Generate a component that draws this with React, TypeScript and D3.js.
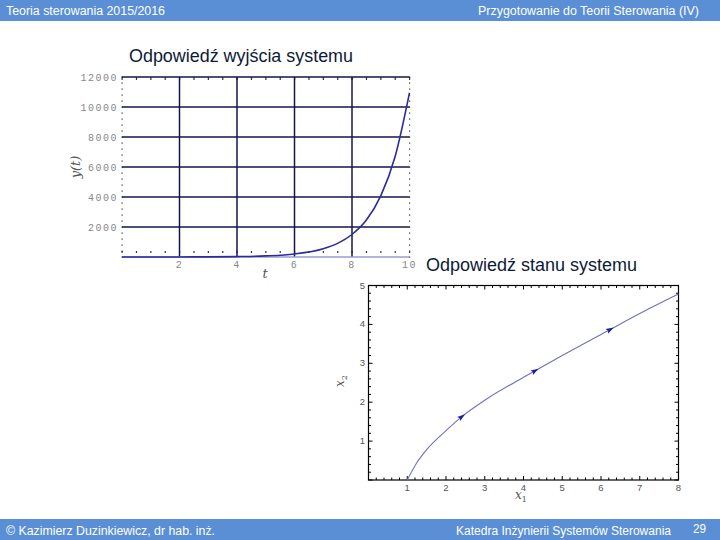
import React from "react";
import * as d3 from "d3";

// ---- Data ----
const headerLeft = "Teoria sterowania  2015/2016";
const headerRight = "Przygotowanie do Teorii  Sterowania (IV)";
const footerLeft = "© Kazimierz Duzinkiewicz, dr hab. inż.";
const footerRight = "Katedra Inżynierii Systemów Sterowania";
const pageNumber = "29";
const title1 = "Odpowiedź wyjścia systemu";
const title2 = "Odpowiedź stanu systemu";

// Output response y(t)
const tValues = [0, 1, 2, 3, 4, 5, 6, 7, 7.5, 8, 8.5, 9, 9.5, 10];
const yValues = [0, 1, 4, 10, 27, 75, 205, 555, 910, 1500, 2460, 4070, 6700, 10950];
const tTicks = [2, 4, 6, 8, 10];
const yTicks = [2000, 4000, 6000, 8000, 10000, 12000];

// State trajectory x2(x1)
const x1Values = [1, 1.25, 1.5, 2, 2.41, 3, 4, 4.3, 5, 6, 6.24, 7, 8];
const x2Values = [0, 0.45, 0.78, 1.27, 1.63, 2.05, 2.64, 2.81, 3.2, 3.74, 3.87, 4.28, 4.78];
const arrowX1 = [2.41, 4.3, 6.24];
const arrowX2 = [1.63, 2.81, 3.87];
const x1Ticks = [1, 2, 3, 4, 5, 6, 7, 8];
const x2Ticks = [1, 2, 3, 4, 5];

const BLUE = "#5a8fd6";

export default function App() {
  // ---- Chart 1 scales ----
  const xs1 = d3.scaleLinear().domain([0, 10]).range([122, 409.5]);
  const ys1 = d3.scaleLinear().domain([0, 12000]).range([257, 77]);
  const pts1 = tValues.map((t, i) => [t, yValues[i]] as [number, number]);
  const line1 = d3
    .line<[number, number]>()
    .x((d) => xs1(d[0]))
    .y((d) => ys1(d[1]))
    .curve(d3.curveMonotoneX);
  const minorY1 = d3.range(0, 12001, 400);
  const minorX1 = d3.range(0, 10.01, 0.5);

  // ---- Chart 2 scales ----
  const xs2 = d3.scaleLinear().domain([0, 8]).range([368.5, 678.5]);
  const ys2 = d3.scaleLinear().domain([0, 5]).range([480, 285.5]);
  const pts2 = x1Values.map((x, i) => [x, x2Values[i]] as [number, number]);
  const line2 = d3
    .line<[number, number]>()
    .x((d) => xs2(d[0]))
    .y((d) => ys2(d[1]))
    .curve(d3.curveMonotoneX);
  const minorX2 = d3.range(0, 8.001, 0.2);
  const minorY2 = d3.range(0, 5.001, 0.2);

  // arrow directions from neighbouring data
  const arrows = arrowX1.map((ax, i) => {
    const ay = arrowX2[i];
    const idx = x1Values.indexOf(ax);
    const nx = x1Values[Math.min(idx + 1, x1Values.length - 1)];
    const ny = x2Values[Math.min(idx + 1, x2Values.length - 1)];
    const px = x1Values[Math.max(idx - 1, 0)];
    const py = x2Values[Math.max(idx - 1, 0)];
    const dx = xs2(nx) - xs2(px);
    const dy = ys2(ny) - ys2(py);
    const ang = (Math.atan2(dy, dx) * 180) / Math.PI;
    return { x: xs2(ax), y: ys2(ay), ang };
  });

  const gridColor = "#15154a";
  const labelFont = "'Liberation Mono', 'DejaVu Sans Mono', monospace";

  return (
    <svg
      width={720}
      height={540}
      style={{ position: "absolute", left: 0, top: 0, background: "#fff" }}
      fontFamily="'Liberation Sans', Arial, sans-serif"
    >
      <rect x={0} y={0} width={720} height={540} fill="#fff" />
      {/* Header */}
      <rect x={0} y={0} width={720} height={21} fill={BLUE} />
      <text x={6} y={15} fill="#fff" fontSize={12} textLength={159} lengthAdjust="spacingAndGlyphs">
        {headerLeft}
      </text>
      <text x={478} y={15} fill="#fff" fontSize={12} textLength={221} lengthAdjust="spacingAndGlyphs">
        {headerRight}
      </text>
      {/* Footer */}
      <rect x={0} y={519} width={720} height={21} fill={BLUE} />
      <text x={6} y={535} fill="#fff" fontSize={12} textLength={209} lengthAdjust="spacingAndGlyphs">
        {footerLeft}
      </text>
      <text x={456} y={535} fill="#fff" fontSize={12} textLength={215} lengthAdjust="spacingAndGlyphs">
        {footerRight}
      </text>
      <text x={693} y={533} fill="#fff" fontSize={12} textLength={13} lengthAdjust="spacingAndGlyphs">
        {pageNumber}
      </text>

      {/* ---- Chart 1 ---- */}
      <text x={129} y={62} fill="#0d1a38" fontSize={17.5} textLength={224} lengthAdjust="spacingAndGlyphs">
        {title1}
      </text>
      {minorY1.map((v) => (
        <g key={"my" + v}>
          <rect x={121.5} y={ys1(v) - 0.5} width={1.2} height={1.2} fill="#333" />
          <rect x={409} y={ys1(v) - 0.5} width={1.2} height={1.2} fill="#333" />
        </g>
      ))}
      {minorX1.map((v) => (
        <g key={"mx" + v}>
          <rect x={xs1(v) - 0.5} y={77} width={1.2} height={3} fill="#333" />
          <rect x={xs1(v) - 0.5} y={251} width={1.2} height={2} fill="#333" />
        </g>
      ))}
      {yTicks.map((v) => (
        <line key={"gy" + v} x1={xs1(0)} x2={xs1(10)} y1={ys1(v)} y2={ys1(v)} stroke={gridColor} strokeWidth={1.5} />
      ))}
      {tTicks
        .filter((v) => v < 10)
        .map((v) => (
          <line key={"gx" + v} x1={xs1(v)} x2={xs1(v)} y1={ys1(12000)} y2={ys1(0)} stroke={gridColor} strokeWidth={1.5} />
        ))}
      <line x1={xs1(0)} x2={xs1(10)} y1={ys1(0)} y2={ys1(0)} stroke="#9a9ad0" strokeWidth={1.5} />
      <path d={line1(pts1) || ""} fill="none" stroke="#2b2b9c" strokeWidth={1.6} />
      {yTicks.map((v) => (
        <text
          key={"ly" + v}
          x={118}
          y={ys1(v) + 3.5}
          textAnchor="end"
          fontSize={10}
          fill="#888"
          fontFamily={labelFont}
          letterSpacing={1.5}
        >
          {v}
        </text>
      ))}
      {tTicks.map((v) => (
        <text
          key={"lx" + v}
          x={xs1(v)}
          y={268}
          textAnchor="middle"
          fontSize={10}
          fill="#888"
          fontFamily={labelFont}
          letterSpacing={1.5}
        >
          {v}
        </text>
      ))}
      <text x={265} y={278} textAnchor="middle" fontSize={13} fontStyle="italic" fontFamily="'DejaVu Serif', serif" fill="#555">
        t
      </text>
      <text
        transform="translate(80,167) rotate(-90)"
        textAnchor="middle"
        fontSize={13}
        fontStyle="italic"
        fontFamily="'DejaVu Serif', serif"
        fill="#555"
      >
        y(t)
      </text>

      {/* ---- Chart 2 ---- */}
      <text x={426} y={270.5} fill="#0d1a38" fontSize={17.5} textLength={211} lengthAdjust="spacingAndGlyphs">
        {title2}
      </text>
      <rect x={xs2(0)} y={ys2(5)} width={xs2(8) - xs2(0)} height={ys2(0) - ys2(5)} fill="none" stroke="#000" strokeWidth={1.2} />
      {minorX2.map((v, i) => {
        const major = i % 5 === 0;
        const len = major ? 4 : 2.5;
        return (
          <g key={"tx2" + i}>
            <line x1={xs2(v)} x2={xs2(v)} y1={ys2(0)} y2={ys2(0) - len} stroke="#000" strokeWidth={1} />
            <line x1={xs2(v)} x2={xs2(v)} y1={ys2(5)} y2={ys2(5) + len} stroke="#000" strokeWidth={1} />
          </g>
        );
      })}
      {minorY2.map((v, i) => {
        const major = i % 5 === 0;
        const len = major ? 4 : 2.5;
        return (
          <g key={"ty2" + i}>
            <line x1={xs2(0)} x2={xs2(0) + len} y1={ys2(v)} y2={ys2(v)} stroke="#000" strokeWidth={1} />
            <line x1={xs2(8)} x2={xs2(8) - len} y1={ys2(v)} y2={ys2(v)} stroke="#000" strokeWidth={1} />
          </g>
        );
      })}
      <path d={line2(pts2) || ""} fill="none" stroke="#7070c0" strokeWidth={1.1} />
      {arrows.map((a, i) => (
        <path
          key={"ar" + i}
          d="M4,0 L-4,-2.6 L-2.5,0 L-4,2.6 Z"
          transform={`translate(${a.x},${a.y}) rotate(${a.ang})`}
          fill="#1f1fa0"
        />
      ))}
      {x1Ticks.map((v) => (
        <text key={"l2x" + v} x={xs2(v)} y={491} textAnchor="middle" fontSize={9.5} fill="#555">
          {v}
        </text>
      ))}
      {x2Ticks.map((v) => (
        <text key={"l2y" + v} x={365} y={ys2(v) + 3} textAnchor="end" fontSize={9.5} fill="#555">
          {v}
        </text>
      ))}
      <text x={521} y={499} textAnchor="middle" fontSize={12} fontStyle="italic" fontFamily="'DejaVu Serif', serif" fill="#555">
        x<tspan fontSize={8} dy={3} fontStyle="normal">1</tspan>
      </text>
      <text
        transform="translate(344,381) rotate(-90)"
        textAnchor="middle"
        fontSize={12}
        fontStyle="italic"
        fontFamily="'DejaVu Serif', serif"
        fill="#555"
      >
        x<tspan fontSize={8} dy={3} fontStyle="normal">2</tspan>
      </text>
    </svg>
  );
}
